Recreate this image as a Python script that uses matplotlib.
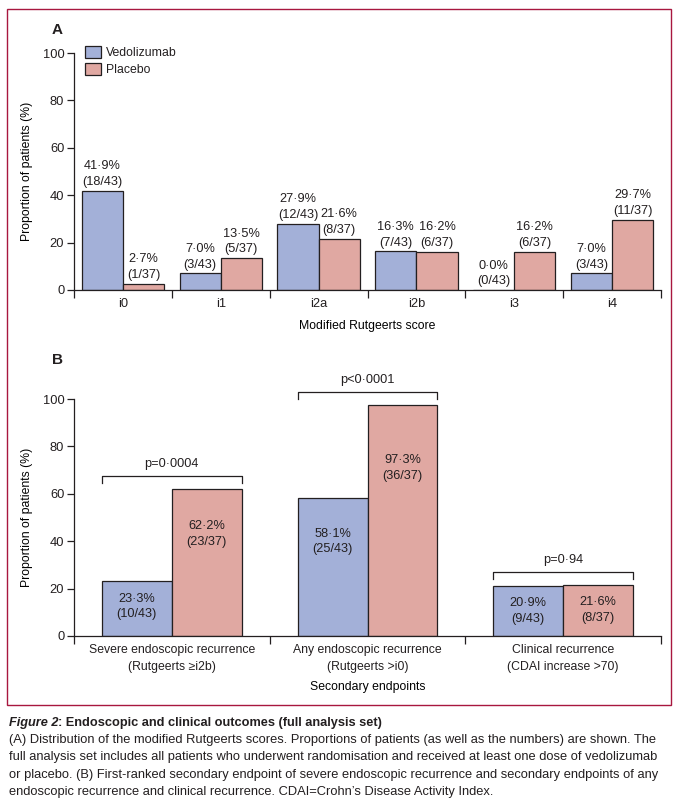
import numpy as np
import matplotlib
matplotlib.use("Agg")
from matplotlib import pyplot as plt
from matplotlib.patches import Rectangle

plt.rcParams["font.family"] = ["Liberation Sans", "DejaVu Sans"]
plt.rcParams["text.color"] = "#231f20"
plt.rcParams["axes.edgecolor"] = "#231f20"
plt.rcParams["xtick.color"] = "#231f20"
plt.rcParams["ytick.color"] = "#231f20"

# panel A data
scores = ["i0", "i1", "i2a", "i2b", "i3", "i4"]
vedo_pct = [41.9, 7.0, 27.9, 16.3, 0.0, 7.0]
vedo_n = ["18/43", "3/43", "12/43", "7/43", "0/43", "3/43"]
plac_pct = [2.7, 13.5, 21.6, 16.2, 16.2, 29.7]
plac_n = ["1/37", "5/37", "8/37", "6/37", "6/37", "11/37"]

# panel B data
endpoints = ["Severe endoscopic recurrence\n(Rutgeerts \u2265i2b)",
             "Any endoscopic recurrence\n(Rutgeerts >i0)",
             "Clinical recurrence\n(CDAI increase >70)"]
vedo_b = [23.3, 58.1, 20.9]
vedo_b_n = ["10/43", "25/43", "9/43"]
plac_b = [62.2, 97.3, 21.6]
plac_b_n = ["23/37", "36/37", "8/37"]
pvals = ["p=0\u00b70004", "p<0\u00b70001", "p=0\u00b794"]

BLUE = "#a3b0d8"
PINK = "#e0a8a2"
EDGE = "#231f20"
FS = 8.8      # axis labels
FS_T = 9.3    # tick labels
FS_V = 9.2    # value labels


def fmt(v):
    return f"{v:.1f}".replace(".", "\u00b7") + "%"


def style_axis(ax, n):
    ax.set_xlim(-0.5, n - 0.5)
    ax.set_ylim(0, 100)
    ax.spines[["top", "right"]].set_visible(False)
    ax.spines["left"].set_linewidth(0.9)
    ax.spines["bottom"].set_linewidth(0.9)
    ax.set_yticks(np.arange(0, 101, 20))
    ax.tick_params(axis="y", length=5, width=0.9, labelsize=FS_T, pad=2)
    ax.set_xticks(np.arange(n))
    ax.set_xticks(np.arange(n + 1) - 0.5, minor=True)
    ax.tick_params(axis="x", which="major", length=0, labelsize=FS_T, pad=6)
    ax.tick_params(axis="x", which="minor", length=6, width=0.9)
    ax.set_ylabel("Proportion of patients (%)", fontsize=FS, labelpad=7)


fig = plt.figure(figsize=(6.78, 8.11), dpi=100)

# border
fig.patches.append(Rectangle((7 / 678, 1 - 705 / 811), 664 / 678, 696 / 811,
                             transform=fig.transFigure, fill=False,
                             edgecolor="#a8173f", linewidth=1.0))

# ---- panel A
axA = fig.add_axes([74 / 678, 1 - 290 / 811, 587 / 678, 237 / 811])
x = np.arange(len(scores))
w = 0.42
axA.bar(x - w / 2, vedo_pct, w, color=BLUE, edgecolor=EDGE, linewidth=0.9, label="Vedolizumab")
axA.bar(x + w / 2, plac_pct, w, color=PINK, edgecolor=EDGE, linewidth=0.9, label="Placebo")
for i in range(len(scores)):
    axA.annotate(f"{fmt(vedo_pct[i])}\n({vedo_n[i]})", (x[i] - w / 2, vedo_pct[i]),
                 xytext=(0, 2), textcoords="offset points", ha="center", va="bottom",
                 fontsize=FS_V, linespacing=1.4)
    axA.annotate(f"{fmt(plac_pct[i])}\n({plac_n[i]})", (x[i] + w / 2, plac_pct[i]),
                 xytext=(0, 2), textcoords="offset points", ha="center", va="bottom",
                 fontsize=FS_V, linespacing=1.4)
style_axis(axA, len(scores))
axA.set_xticklabels(scores)
axA.set_xlabel("Modified Rutgeerts score", fontsize=FS, labelpad=7)
axA.legend(loc="upper left", bbox_to_anchor=(0.01, 1.05), frameon=False, fontsize=FS,
           handlelength=1.3, handleheight=1.1, handletextpad=0.4, labelspacing=0.35,
           borderaxespad=0)
fig.text(57 / 678, 1 - 30 / 811, "A", fontsize=11, fontweight="bold", ha="center", va="center")

# ---- panel B
axB = fig.add_axes([74 / 678, 1 - 636 / 811, 587 / 678, 237 / 811])
xb = np.arange(len(endpoints))
wb = 0.357
axB.bar(xb - wb / 2, vedo_b, wb, color=BLUE, edgecolor=EDGE, linewidth=0.9)
axB.bar(xb + wb / 2, plac_b, wb, color=PINK, edgecolor=EDGE, linewidth=0.9)
for i in range(len(endpoints)):
    for xx, v, n in [(xb[i] - wb / 2, vedo_b[i], vedo_b_n[i]), (xb[i] + wb / 2, plac_b[i], plac_b_n[i])]:
        axB.text(xx, 0.79 * v - 6, f"{fmt(v)}\n({n})", ha="center", va="center",
                 fontsize=FS_V, linespacing=1.4)
    top = max(vedo_b[i], plac_b[i]) + 5.5
    x0, x1 = xb[i] - wb, xb[i] + wb
    axB.plot([x0, x0, x1, x1], [top - 3, top, top, top - 3], color=EDGE, lw=0.9, clip_on=False)
    axB.text(xb[i], top + 2.5, pvals[i], ha="center", va="bottom", fontsize=FS_V, clip_on=False)
style_axis(axB, len(endpoints))
axB.set_xticklabels(endpoints, linespacing=1.5, fontsize=FS)
axB.set_xlabel("Secondary endpoints", fontsize=FS, labelpad=6)
fig.text(57 / 678, 1 - 360 / 811, "B", fontsize=11, fontweight="bold", ha="center", va="center")

# ---- caption
t1 = fig.text(9 / 678, 1 - 726 / 811, "Figure 2", fontsize=9.2, fontweight="bold",
              fontstyle="italic", ha="left", va="baseline")
fig.canvas.draw()
bb = t1.get_window_extent()
fig.text(bb.x1 / fig.bbox.width, 1 - 726 / 811,
         ": Endoscopic and clinical outcomes (full analysis set)", fontsize=9.2,
         fontweight="bold", ha="left", va="baseline")
caption = ("(A) Distribution of the modified Rutgeerts scores. Proportions of patients (as well as the numbers) are shown. The\n"
           "full analysis set includes all patients who underwent randomisation and received at least one dose of vedolizumab\n"
           "or placebo. (B) First-ranked secondary endpoint of severe endoscopic recurrence and secondary endpoints of any\n"
           "endoscopic recurrence and clinical recurrence. CDAI=Crohn\u2019s Disease Activity Index.")
fig.text(9 / 678, 1 - 734 / 811, caption, fontsize=9.3, ha="left", va="top", linespacing=1.6)

fig.savefig("out.png", dpi=100)
